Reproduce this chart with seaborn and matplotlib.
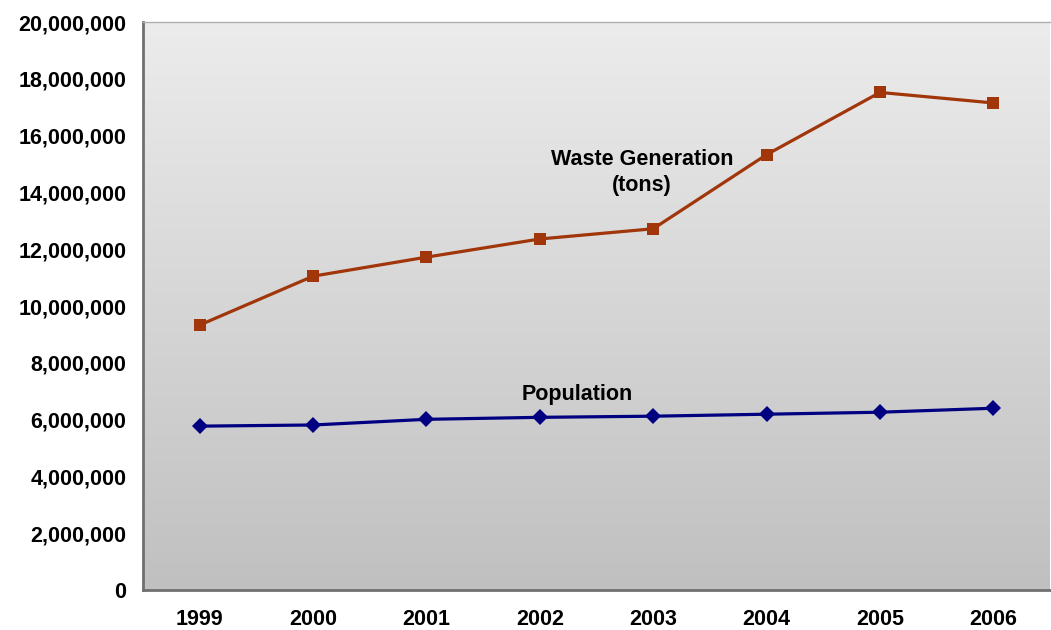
"""Waste generation vs population, 1999-2006."""

import matplotlib.pyplot as plt
import numpy as np
import pandas as pd
import seaborn as sns
from matplotlib.ticker import FuncFormatter, MultipleLocator

years = ["1999", "2000", "2001", "2002", "2003", "2004", "2005", "2006"]
waste_tons = [9330000, 11050000, 11720000, 12360000, 12720000, 15330000, 17520000, 17150000]
population = [5770000, 5810000, 6010000, 6080000, 6120000, 6190000, 6260000, 6400000]

df = pd.DataFrame(
    {
        "year": years * 2,
        "value": waste_tons + population,
        "series": ["waste"] * len(years) + ["population"] * len(years),
    }
)

sns.set_style("white")
plt.rcParams["font.family"] = ["Liberation Sans", "DejaVu Sans"]
plt.rcParams["text.color"] = "black"
plt.rcParams["xtick.color"] = "black"
plt.rcParams["ytick.color"] = "black"

fig = plt.figure(figsize=(10.51, 6.30), dpi=100)
ax = fig.add_axes([143 / 1051, 40 / 630, 907 / 1051, 568 / 630])

# grey vertical gradient for the plot area
grad = np.linspace(0, 1, 256).reshape(-1, 1)
ax.imshow(
    grad,
    extent=[0, 1, 0, 1],
    transform=ax.transAxes,
    cmap=sns.blend_palette(["#ececec", "#c0c0c0"], as_cmap=True),
    aspect="auto",
    zorder=0,
)

sns.lineplot(
    data=df[df["series"] == "waste"], x="year", y="value", ax=ax,
    color="#A0360A", linewidth=2.3, marker="s", markersize=9,
    markeredgewidth=0, sort=False, zorder=3,
)
sns.lineplot(
    data=df[df["series"] == "population"], x="year", y="value", ax=ax,
    color="#000080", linewidth=2.3, marker="D", markersize=8.5,
    markeredgewidth=0, sort=False, zorder=3,
)

ax.set_xlim(-0.5, len(years) - 0.5)
ax.set_ylim(0, 20000000)
ax.yaxis.set_major_locator(MultipleLocator(2000000))
ax.yaxis.set_major_formatter(FuncFormatter(lambda v, _: f"{int(v):,}"))

ax.set_xticks(range(len(years)))
ax.set_xticklabels(years)
ax.set_xticks(np.arange(0.5, len(years) - 0.5, 1), minor=True)
ax.tick_params(axis="x", which="major", length=0, pad=14)
ax.tick_params(axis="x", which="minor", length=6, width=1, color="black", direction="out")
ax.tick_params(axis="y", which="major", length=6, width=1, color="black", direction="out", pad=6)
for lab in ax.get_xticklabels() + ax.get_yticklabels():
    lab.set_fontsize(15.5)
    lab.set_fontweight("bold")

ax.set_xlabel("")
ax.set_ylabel("")

for side in ["left", "bottom"]:
    ax.spines[side].set_color("#707070")
    ax.spines[side].set_linewidth(2)
ax.spines["top"].set_color("#b0b0b0")
ax.spines["top"].set_linewidth(1)
ax.spines["right"].set_visible(False)

ax.text(3.9, 14700000, "Waste Generation\n(tons)", ha="center", va="center",
        fontsize=15.5, fontweight="bold", linespacing=1.35)
ax.text(3.33, 6900000, "Population", ha="center", va="center",
        fontsize=15.5, fontweight="bold")

fig.savefig("out.png", dpi=100)
